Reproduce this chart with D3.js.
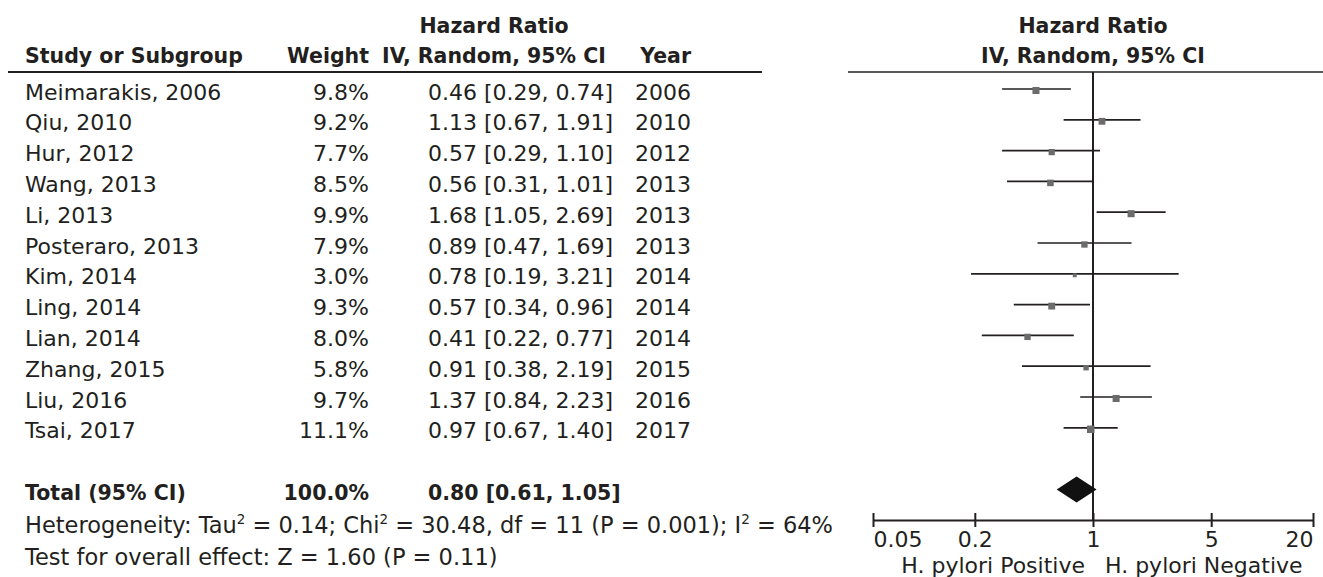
<!DOCTYPE html>
<html>
<head>
<meta charset="utf-8">
<script src="https://cdn.jsdelivr.net/npm/d3@7"></script>
<style>
  html, body { margin: 0; padding: 0; background: #fff; }
  svg { display: block; }
  text { font-family: "DejaVu Sans", sans-serif; fill: #231f20; }
</style>
</head>
<body>
<script>
// ---------- data ----------
const studies = ["Meimarakis, 2006", "Qiu, 2010", "Hur, 2012", "Wang, 2013", "Li, 2013", "Posteraro, 2013",
                 "Kim, 2014", "Ling, 2014", "Lian, 2014", "Zhang, 2015", "Liu, 2016", "Tsai, 2017"];
const weights = [9.8, 9.2, 7.7, 8.5, 9.9, 7.9, 3.0, 9.3, 8.0, 5.8, 9.7, 11.1];
const hr      = [0.46, 1.13, 0.57, 0.56, 1.68, 0.89, 0.78, 0.57, 0.41, 0.91, 1.37, 0.97];
const lower   = [0.29, 0.67, 0.29, 0.31, 1.05, 0.47, 0.19, 0.34, 0.22, 0.38, 0.84, 0.67];
const upper   = [0.74, 1.91, 1.10, 1.01, 2.69, 1.69, 3.21, 0.96, 0.77, 2.19, 2.23, 1.40];
const years   = [2006, 2010, 2012, 2013, 2013, 2013, 2014, 2014, 2014, 2015, 2016, 2017];
const totalLabel = "Total (95% CI)";
const totalWeight = 100.0;
const totalHR = [0.80, 0.61, 1.05];   // estimate, lower, upper
const axisTicks = [0.05, 0.2, 1, 5, 20];
const leftLabel = "H. pylori Positive";
const rightLabel = "H. pylori Negative";

const W = 1323, H = 577;
const svg = d3.select("body").append("svg").attr("width", W).attr("height", H);

// ---------- scales ----------
const x = d3.scaleLog().domain([0.05, 20]).range([873, 1313]);
const row = d3.scaleLinear().domain([0, 1]).range([89, 119.8]);   // row index -> bar y
const sq = d3.scaleSqrt().domain([0, 10]).range([0, 7.1]);

const fmt2 = d3.format(".2f");
const fmtW = d3.format(".1f");
const ciText = (e, l, u) => `${fmt2(e)} [${fmt2(l)}, ${fmt2(u)}]`;

const TXT = 22, BOLD = 20.5, FOOT = 22.5;
const baseOff = 10.5; // baseline offset from bar y

// ---------- headers ----------
const hdr = svg.append("g").attr("font-weight", "bold").attr("font-size", BOLD);
hdr.append("text").attr("x", 494).attr("y", 33).attr("text-anchor", "middle").text("Hazard Ratio");
hdr.append("text").attr("x", 25).attr("y", 63).text("Study or Subgroup");
hdr.append("text").attr("x", 369).attr("y", 63).attr("text-anchor", "end").text("Weight");
hdr.append("text").attr("x", 494).attr("y", 63).attr("text-anchor", "middle").text("IV, Random, 95% CI");
hdr.append("text").attr("x", 691).attr("y", 63).attr("text-anchor", "end").text("Year");
hdr.append("text").attr("x", 1093).attr("y", 33).attr("text-anchor", "middle").text("Hazard Ratio");
hdr.append("text").attr("x", 1093).attr("y", 63).attr("text-anchor", "middle").text("IV, Random, 95% CI");

svg.append("line").attr("x1", 8).attr("x2", 762).attr("y1", 72).attr("y2", 72)
  .attr("stroke", "#231f20").attr("stroke-width", 2.2);
svg.append("line").attr("x1", 848).attr("x2", 1323).attr("y1", 72).attr("y2", 72)
  .attr("stroke", "#231f20").attr("stroke-width", 1.6);

// ---------- study rows ----------
const idx = d3.range(studies.length);
const rows = svg.append("g").attr("font-size", TXT);
rows.selectAll("text.name").data(idx).join("text").attr("class", "name")
  .attr("x", 25).attr("y", i => row(i) + baseOff).text(i => studies[i]);
rows.selectAll("text.w").data(idx).join("text").attr("class", "w")
  .attr("x", 369).attr("y", i => row(i) + baseOff).attr("text-anchor", "end")
  .text(i => fmtW(weights[i]) + "%");
rows.selectAll("text.ci").data(idx).join("text").attr("class", "ci")
  .attr("x", 428).attr("y", i => row(i) + baseOff)
  .text(i => ciText(hr[i], lower[i], upper[i]));
rows.selectAll("text.yr").data(idx).join("text").attr("class", "yr")
  .attr("x", 691).attr("y", i => row(i) + baseOff).attr("text-anchor", "end")
  .text(i => years[i]);

// ---------- plot ----------
const plot = svg.append("g");
plot.append("line").attr("x1", x(1)).attr("x2", x(1)).attr("y1", 72).attr("y2", 520)
  .attr("stroke", "#231f20").attr("stroke-width", 2);

plot.selectAll("line.ci").data(idx).join("line").attr("class", "ci")
  .attr("x1", i => x(lower[i])).attr("x2", i => x(upper[i]))
  .attr("y1", i => row(i)).attr("y2", i => row(i))
  .attr("stroke", "#231f20").attr("stroke-width", 1.7);
plot.selectAll("rect.sq").data(idx).join("rect").attr("class", "sq")
  .attr("x", i => x(hr[i]) - sq(weights[i]) / 2)
  .attr("y", i => row(i) + 1.5 - sq(weights[i]) / 2)
  .attr("width", i => sq(weights[i])).attr("height", i => sq(weights[i]))
  .attr("fill", "#6b6b6b");

// ---------- total ----------
const ty = row(13);
const tot = svg.append("g").attr("font-weight", "bold").attr("font-size", BOLD);
tot.append("text").attr("x", 25).attr("y", ty + baseOff).text(totalLabel);
tot.append("text").attr("x", 369).attr("y", ty + baseOff).attr("text-anchor", "end").text(fmtW(totalWeight) + "%");
tot.append("text").attr("x", 428).attr("y", ty + baseOff).text(ciText(...totalHR));

plot.append("path")
  .attr("d", `M${x(totalHR[1])},${ty} L${x(totalHR[0])},${ty - 13} L${x(totalHR[2])},${ty} L${x(totalHR[0])},${ty + 13} Z`)
  .attr("fill", "#111");

// ---------- heterogeneity ----------
const het = svg.append("text").attr("x", 25).attr("y", row(14) + baseOff + 2).attr("font-size", FOOT);
const sup = (t) => het.append("tspan").attr("font-size", 13.5).attr("dy", -9).text(t);
const nrm = (t) => het.append("tspan").attr("dy", 9).text(t);
het.append("tspan").text("Heterogeneity: Tau");
sup("2"); nrm(" = 0.14; Chi"); sup("2"); nrm(" = 30.48, df = 11 (P = 0.001); I"); sup("2"); nrm(" = 64%");
svg.append("text").attr("x", 25).attr("y", row(15) + baseOff + 3).attr("font-size", FOOT)
  .text("Test for overall effect: Z = 1.60 (P = 0.11)");

// ---------- axis ----------
const axisY = 520;
const axis = svg.append("g").attr("transform", `translate(0,${axisY})`)
  .call(d3.axisBottom(x).tickValues(axisTicks).tickSize(0).tickFormat(d => String(d)));
axis.select(".domain").attr("stroke", "#231f20").attr("stroke-width", 2);
axis.selectAll(".tick text").attr("font-size", TXT).attr("font-family", "DejaVu Sans")
  .attr("fill", "#231f20").attr("y", 27).attr("dy", 0)
  .attr("text-anchor", (d, i) => i === 0 ? "start" : (i === axisTicks.length - 1 ? "end" : "middle"));
axis.selectAll(".tick").append("line").attr("y1", -7).attr("y2", 7)
  .attr("stroke", "#231f20").attr("stroke-width", 2);

svg.append("text").attr("x", 1085).attr("y", 573).attr("text-anchor", "end").attr("font-size", TXT).text(leftLabel);
svg.append("text").attr("x", 1105).attr("y", 573).attr("font-size", TXT).text(rightLabel);
</script>
</body>
</html>
